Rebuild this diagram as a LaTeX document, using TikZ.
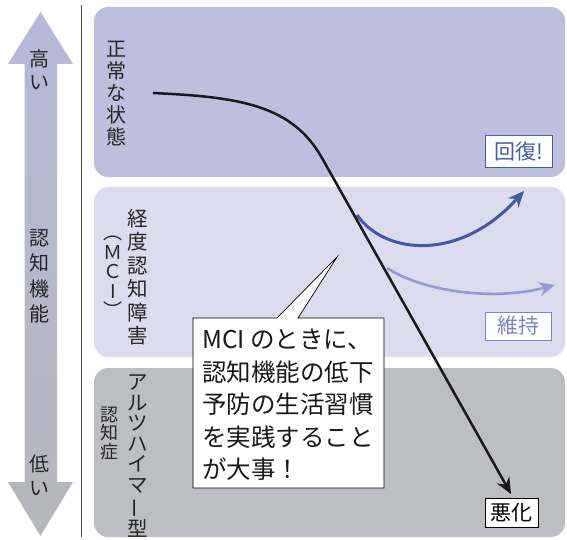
\documentclass[tikz,border=0pt]{standalone}
\usepackage{fontspec}
\usepackage{graphicx}
\setmainfont{Noto Sans CJK JP}
\usetikzlibrary{arrows.meta}
\definecolor{panelA}{HTML}{BEBEDE}
\definecolor{panelB}{HTML}{DCDCEE}
\definecolor{panelC}{HTML}{BDBEC2}
\definecolor{arrTop}{HTML}{B8B8DA}
\definecolor{arrMid}{HTML}{E8E6F0}
\definecolor{arrBot}{HTML}{B6B7BB}
\definecolor{txtgray}{HTML}{262626}
\definecolor{blueA}{HTML}{4257A8}
\definecolor{blueB}{HTML}{959BD0}
\definecolor{labA}{HTML}{4A5BA8}
\definecolor{labB}{HTML}{7D84C4}
\tikzset{
  panel/.style={rounded corners=14pt, draw=none},
  vlabel/.style={align=center, inner sep=0pt, text=txtgray},
  statebox/.style={draw, fill=white, line width=1pt, inner sep=0pt, font=\fontsize{21}{22}\selectfont},
  bigtip/.style={-{Stealth[length=16pt,width=14pt]}},
}
\begin{document}
\begin{tikzpicture}[x=1pt,y=-1pt]
\useasboundingbox (0,0) rectangle (567,540);
% panels
\fill[panel, panelA] (94,7) rectangle (565,177);
\fill[panel, panelB] (94,187) rectangle (565,357);
\fill[panel, panelC] (94,368) rectangle (565,537);
% left double arrow
\shade[top color=arrTop, middle color=arrMid, bottom color=arrBot]
  (40.5,12) -- (73,64) -- (57,64) -- (57,482) -- (73,482) -- (40.5,536)
  -- (8,482) -- (24.5,482) -- (24.5,64) -- (8,64) -- cycle;
\node[vlabel, font=\fontsize{20}{23}\selectfont] (high) at (39,70) {高\\い};
\node[vlabel, font=\fontsize{20}{25.5}\selectfont] (cog) at (39,276) {認\\知\\機\\能};
\node[vlabel, font=\fontsize{20}{24}\selectfont] (low) at (39,475) {低\\い};
% divider
\draw[line width=0.8pt, black!70] (81,5) -- (81,537);
% panel labels
\node[vlabel, font=\fontsize{20}{22}\selectfont] (normal) at (116,94) {正\\常\\な\\状\\態};
\node[vlabel, font=\fontsize{20.5}{23.5}\selectfont] (mild) at (138,277) {経\\度\\認\\知\\障\\害};
\node[vlabel, font=\fontsize{19}{19.5}\selectfont] (mci) at (113,277) {︵\\Ｍ\\Ｃ\\I\\︶};
\node[vlabel, font=\fontsize{20.5}{20.5}\selectfont] (alz) at (138,456) {ア\\ル\\ツ\\ハ\\イ\\マ\\\rotatebox[origin=c]{90}{ー}\\型};
\node[vlabel, font=\fontsize{18}{18.5}\selectfont] (dem) at (109,433) {認\\知\\症};
% state boxes
\node[statebox, draw=labA, text=labA, minimum width=67pt, minimum height=32pt] (recover) at (518.5,152) {回復!};
\node[statebox, draw=labB, text=labB, minimum width=66pt, minimum height=28pt] (keep) at (518,326) {維持};
\node[statebox, draw=black, text=black, minimum width=53pt, minimum height=29pt] (worse) at (511.5,512.5) {悪化};
% curves
\coordinate (s0) at (153,93);
\coordinate (bend) at (322,158);
\coordinate (wtip) at (511,494);
\coordinate (b0) at (357,215);
\coordinate (btip) at (524,191);
\coordinate (c0) at (387,268);
\coordinate (ctip) at (555,285);
\draw[line width=3pt, blueA, bigtip] (b0) .. controls (385,255) and (460,262) .. (btip);
\draw[line width=2.6pt, blueB, bigtip] (c0) .. controls (420,290) and (490,302) .. (ctip);
\draw[line width=2.5pt, black!90, bigtip] (s0) .. controls (240,97) and (292,105) .. (bend) -- (wtip);
% callout
\filldraw[fill=white, draw=black, line width=0.7pt]
  (193,318) -- (277,318) -- (337,257) -- (298,318) -- (384,318) -- (384,488) -- (193,488) -- cycle;
\node[anchor=west, align=left, inner sep=0pt, text=black!90, font=\fontsize{24.5}{32.5}\selectfont] (note) at (202,405)
  {MCI のときに、\\認知機能の低下\\予防の生活習慣\\を実践すること\\が大事！};
\end{tikzpicture}
\end{document}
